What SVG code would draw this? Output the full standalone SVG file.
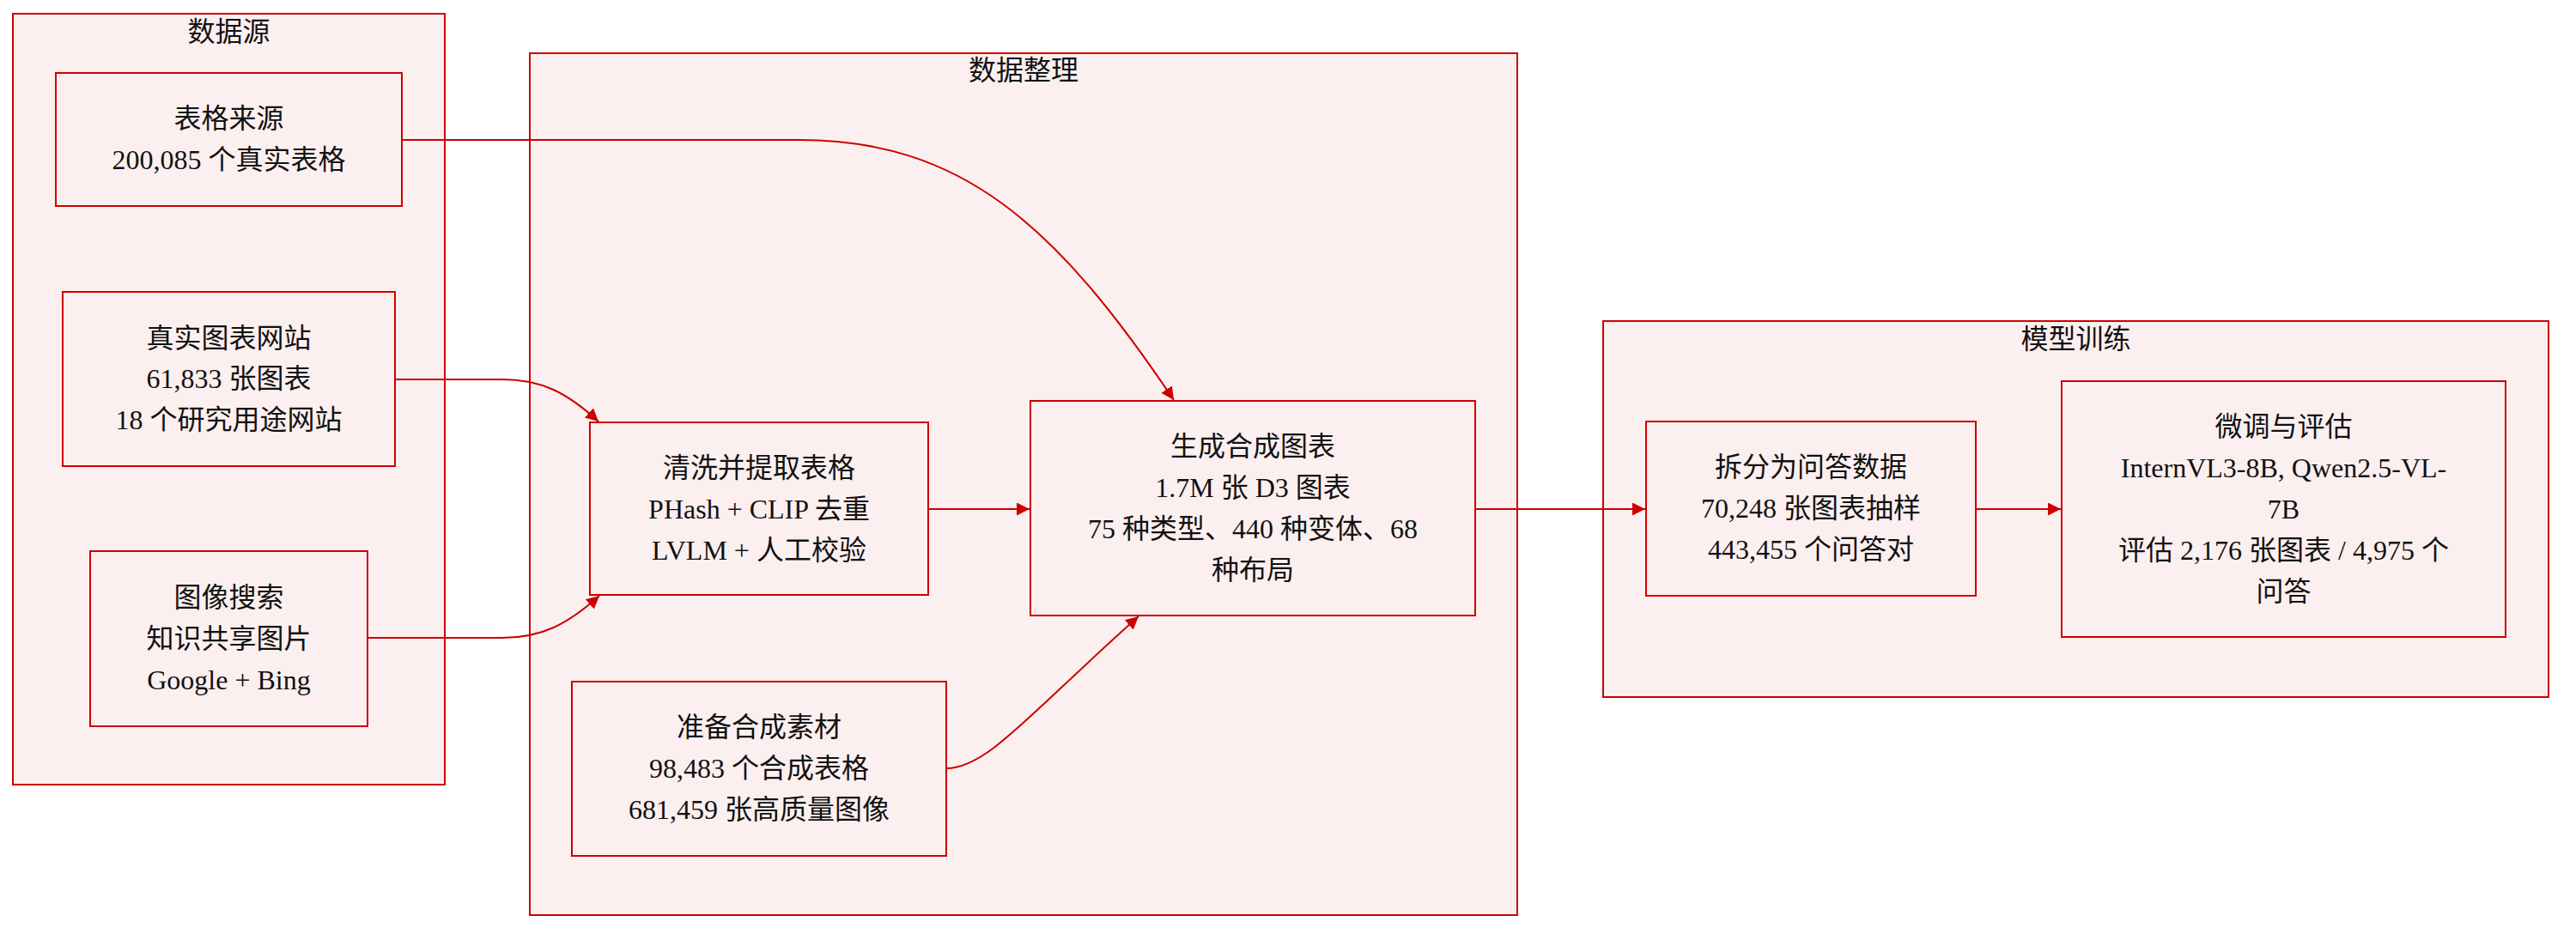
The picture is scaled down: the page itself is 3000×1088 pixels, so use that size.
<svg xmlns="http://www.w3.org/2000/svg" width="3000" height="1088" viewBox="0 0 3000 1088">
<style>
.cl{fill:#fcefef;stroke:#cc0000;stroke-width:2}
.nd{fill:#fcefef;stroke:#cc0000;stroke-width:2}
.t{font-family:"Liberation Serif","Noto Sans CJK SC",serif;font-size:32px;fill:#111;text-anchor:middle}
.e{fill:none;stroke:#cc0000;stroke-width:2;marker-end:url(#ah)}
</style>
<defs>
<marker id="ah" markerUnits="userSpaceOnUse" markerWidth="16" markerHeight="16" refX="15" refY="7.5" orient="auto">
<path d="M0,0 L15,7.5 L0,15 z" fill="#cc0000"/>
</marker>
</defs>
<rect width="3000" height="1088" fill="#ffffff"/>
<g id="cluster-sources">
<rect class="cl" x="15" y="16" width="503" height="898"/>
<text class="t" x="266.5" y="48">数据源</text>
</g>
<g id="cluster-curation">
<rect class="cl" x="617" y="62" width="1150" height="1004"/>
<text class="t" x="1192" y="93">数据整理</text>
</g>
<g id="cluster-training">
<rect class="cl" x="1867" y="374" width="1101" height="438"/>
<text class="t" x="2417.5" y="406">模型训练</text>
</g>
<g id="connectors">
<path class="e" d="M468,163 L930,163 C1120,163 1230,262 1367,466"/>
<path class="e" d="M460,442 L585,442 C630,442 660,457 697,491"/>
<path class="e" d="M428,743 L585,743 C630,743 660,728 698,694"/>
<path class="e" d="M1081,593 L1199,593"/>
<path class="e" d="M1102,895 C1150,895 1200,830 1326,718"/>
<path class="e" d="M1718,593 L1916,593"/>
<path class="e" d="M2301,593 L2400,593"/>
</g>
<g id="node-table-source">
<rect class="nd" x="65" y="85" width="403" height="155"/>
<text class="t" x="266.5" y="149">表格来源</text>
<text class="t" x="266.5" y="197">200,085 个真实表格</text>
</g>
<g id="node-chart-sites">
<rect class="nd" x="73" y="340" width="387" height="203"/>
<text class="t" x="266.5" y="405">真实图表网站</text>
<text class="t" x="266.5" y="452">61,833 张图表</text>
<text class="t" x="266.5" y="500">18 个研究用途网站</text>
</g>
<g id="node-image-search">
<rect class="nd" x="105" y="642" width="323" height="204"/>
<text class="t" x="266.5" y="707">图像搜索</text>
<text class="t" x="266.5" y="755">知识共享图片</text>
<text class="t" x="266.5" y="803">Google + Bing</text>
</g>
<g id="node-clean">
<rect class="nd" x="687" y="492" width="394" height="201"/>
<text class="t" x="884" y="556">清洗并提取表格</text>
<text class="t" x="884" y="604">PHash + CLIP 去重</text>
<text class="t" x="884" y="652">LVLM + 人工校验</text>
</g>
<g id="node-generate">
<rect class="nd" x="1200" y="467" width="518" height="250"/>
<text class="t" x="1459" y="531">生成合成图表</text>
<text class="t" x="1459" y="579">1.7M 张 D3 图表</text>
<text class="t" x="1459" y="627">75 种类型、440 种变体、68</text>
<text class="t" x="1459" y="675">种布局</text>
</g>
<g id="node-materials">
<rect class="nd" x="666" y="794" width="436" height="203"/>
<text class="t" x="884" y="858">准备合成素材</text>
<text class="t" x="884" y="906">98,483 个合成表格</text>
<text class="t" x="884" y="954">681,459 张高质量图像</text>
</g>
<g id="node-split">
<rect class="nd" x="1917" y="491" width="384" height="203"/>
<text class="t" x="2109" y="555">拆分为问答数据</text>
<text class="t" x="2109" y="603">70,248 张图表抽样</text>
<text class="t" x="2109" y="651">443,455 个问答对</text>
</g>
<g id="node-finetune">
<rect class="nd" x="2401" y="444" width="517" height="298"/>
<text class="t" x="2659.5" y="508">微调与评估</text>
<text class="t" x="2659.5" y="556">InternVL3-8B, Qwen2.5-VL-</text>
<text class="t" x="2659.5" y="604">7B</text>
<text class="t" x="2659.5" y="652">评估 2,176 张图表 / 4,975 个</text>
<text class="t" x="2659.5" y="700">问答</text>
</g>
</svg>
